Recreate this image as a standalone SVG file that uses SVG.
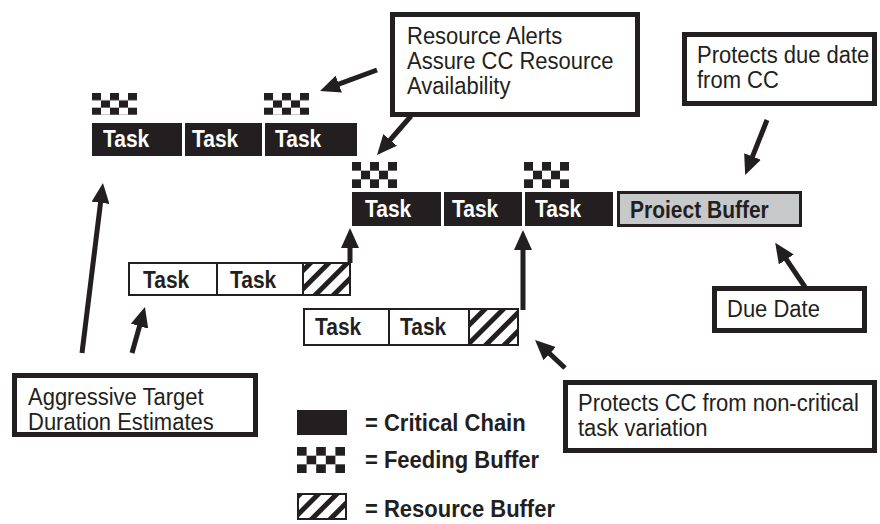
<svg xmlns="http://www.w3.org/2000/svg" width="880" height="524" viewBox="0 0 880 524">
<style>
.crit{fill:#231f20}
.tl{font-family:"Liberation Sans",Arial,sans-serif;font-weight:bold;font-size:21px;fill:#fff}
.tw{font-family:"Liberation Sans",Arial,sans-serif;font-weight:bold;font-size:21px;fill:#231f20}
.note{fill:#fff;stroke:#231f20;stroke-width:5}
.nt{font-family:"Liberation Sans",Arial,sans-serif;font-size:22px;fill:#231f20}
.lg{font-family:"Liberation Sans",Arial,sans-serif;font-weight:bold;font-size:22px;fill:#231f20}
.wbox{fill:#fff;stroke:#231f20;stroke-width:2}
.feed{fill:url(#checker)}
.res{fill:url(#hatch);stroke:#231f20;stroke-width:2}
.arr{stroke:#231f20;stroke-width:5;fill:none;marker-end:url(#head)}
</style>
<defs>
<pattern id="checker" patternUnits="objectBoundingBox" patternContentUnits="objectBoundingBox" width="0.4" height="0.6667">
<rect x="0" y="0" width="0.4" height="0.6667" fill="#fff"/>
<rect x="0" y="0" width="0.2" height="0.3333" fill="#231f20"/>
<rect x="0.2" y="0.3333" width="0.2" height="0.3333" fill="#231f20"/>
</pattern>
<pattern id="hatch" patternUnits="userSpaceOnUse" width="13" height="13" patternTransform="rotate(45)">
<rect x="0" y="0" width="13" height="13" fill="#fff"/>
<rect x="0" y="0" width="5" height="13" fill="#231f20"/>
</pattern>
<marker id="head" markerUnits="userSpaceOnUse" viewBox="0 0 20 18" markerWidth="20" markerHeight="18" refX="8" refY="9" orient="auto">
<path d="M0,0 L20,9 L0,18 z" fill="#231f20"/>
</marker>
</defs>

<g id="top-chain">
<rect class="feed" x="92" y="93" width="45" height="22"/>
<rect class="feed" x="264" y="93" width="45" height="22"/>
<rect class="crit" x="92" y="123" width="90" height="33"/>
<text class="tl" transform="translate(103,147) scale(1,1.1)">Task</text>
<rect class="crit" x="185" y="123" width="77" height="33"/>
<text class="tl" transform="translate(192,147) scale(1,1.1)">Task</text>
<rect class="crit" x="265" y="123" width="92" height="33"/>
<text class="tl" transform="translate(275,147) scale(1,1.1)">Task</text>
</g>

<g id="critical-chain">
<rect class="feed" x="352" y="162" width="45" height="26"/>
<rect class="feed" x="524" y="162" width="45" height="26"/>
<rect class="crit" x="352" y="192" width="89" height="34"/>
<text class="tl" transform="translate(365,217) scale(1,1.1)">Task</text>
<rect class="crit" x="444" y="192" width="78" height="34"/>
<text class="tl" transform="translate(452,217) scale(1,1.1)">Task</text>
<rect class="crit" x="525" y="192" width="88" height="34"/>
<text class="tl" transform="translate(535,217) scale(1,1.1)">Task</text>
</g>

<g id="project-buffer">
<rect x="618.5" y="192.5" width="182" height="33" fill="#c7c8ca" stroke="#231f20" stroke-width="3"/>
<text class="tw" transform="translate(630,218) scale(1,1.1)">Proiect Buffer</text>
</g>

<g id="feeding-chain-1">
<rect class="wbox" x="129" y="263" width="88" height="32"/>
<text class="tw" transform="translate(143,288) scale(1,1.1)">Task</text>
<rect class="wbox" x="217" y="263" width="86" height="32"/>
<text class="tw" transform="translate(230,288) scale(1,1.1)">Task</text>
<rect class="res" x="303" y="263" width="47" height="32"/>
</g>

<g id="feeding-chain-2">
<rect class="wbox" x="304" y="309" width="85" height="36"/>
<text class="tw" transform="translate(315,335) scale(1,1.1)">Task</text>
<rect class="wbox" x="389" y="309" width="80" height="36"/>
<text class="tw" transform="translate(400,335) scale(1,1.1)">Task</text>
<rect class="res" x="469" y="309" width="49" height="36"/>
</g>

<g id="note-resource-alerts">
<rect class="note" x="392.5" y="14.5" width="245" height="100"/>
<text class="nt" transform="translate(407,44) scale(1,1.1)">Resource Alerts</text>
<text class="nt" transform="translate(407,69) scale(1,1.1)">Assure CC Resource</text>
<text class="nt" transform="translate(407,94) scale(1,1.1)">Availability</text>
</g>

<g id="note-protects-due-date">
<rect class="note" x="684.5" y="34.5" width="190" height="69"/>
<text class="nt" transform="translate(697,63) scale(1,1.1)">Protects due date</text>
<text class="nt" transform="translate(697,88) scale(1,1.1)">from CC</text>
</g>

<g id="note-due-date">
<rect class="note" x="714.5" y="288.5" width="150" height="42"/>
<text class="nt" transform="translate(727,317) scale(1,1.1)">Due Date</text>
</g>

<g id="note-protects-cc">
<rect class="note" x="565.5" y="382.5" width="309" height="68"/>
<text class="nt" transform="translate(578,411) scale(1,1.1)">Protects CC from non-critical</text>
<text class="nt" transform="translate(578,436) scale(1,1.1)">task variation</text>
</g>

<g id="note-aggressive">
<rect class="note" x="14.5" y="375.5" width="241" height="59"/>
<text class="nt" transform="translate(28,405) scale(1,1.1)">Aggressive Target</text>
<text class="nt" transform="translate(28,430) scale(1,1.1)">Duration Estimates</text>
</g>

<g id="legend">
<rect class="crit" x="297" y="410" width="50" height="25"/>
<text class="lg" transform="translate(365,431) scale(1,1.1)">= Critical Chain</text>
<rect class="feed" x="297" y="447" width="48" height="26"/>
<text class="lg" transform="translate(365,468) scale(1,1.1)">= Feeding Buffer</text>
<rect class="res" x="298" y="494" width="48" height="25"/>
<text class="lg" transform="translate(365,517) scale(1,1.1)">= Resource Buffer</text>
</g>

<g id="connectors">
<line class="arr" x1="377" y1="70" x2="331.3" y2="86.9"/>
<line class="arr" x1="411" y1="116" x2="384.9" y2="146"/>
<line class="arr" x1="767" y1="120" x2="749.6" y2="163.9"/>
<line class="arr" x1="805" y1="287" x2="781.9" y2="252.8"/>
<line class="arr" x1="565" y1="368" x2="543.8" y2="348.2"/>
<line class="arr" x1="82" y1="353" x2="101.5" y2="194.9"/>
<line class="arr" x1="132" y1="353" x2="141.7" y2="318.5"/>
<line class="arr" x1="350" y1="263" x2="350" y2="240"/>
<line class="arr" x1="523" y1="310" x2="523" y2="242"/>
</g>
</svg>
